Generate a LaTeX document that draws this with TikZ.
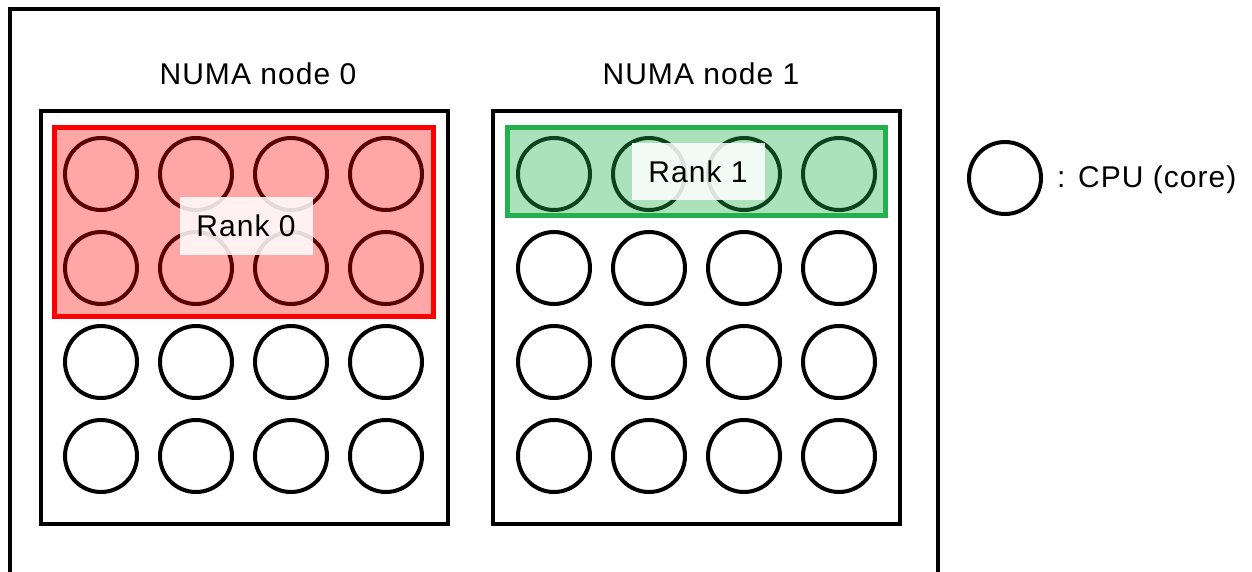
\documentclass[tikz,border=0pt]{standalone}
\usepackage{fontspec}
\setmainfont{Liberation Sans}[LetterSpace=3.5]
\begin{document}
\begin{tikzpicture}[x=1pt,y=-1pt,
  cpu/.style={circle,draw=black,line width=4pt,minimum size=72pt,inner sep=0pt},
  frame/.style={draw=black,line width=4pt},
  lbl/.style={font=\fontsize{30}{36}\selectfont,inner sep=0pt},
  tag/.style={fill=white,fill opacity=0.85,text opacity=1,minimum width=133pt,minimum height=57pt,font=\fontsize{30}{36}\selectfont,inner sep=0pt}
]
\useasboundingbox (0,0) rectangle (1252,572);
\clip (0,0) rectangle (1252,572);
\definecolor{rankred}{RGB}{255,0,0}
\definecolor{rankgreen}{RGB}{34,177,76}

% machine frame (bottom edge runs off the page)
\draw[frame] (10,9) rectangle (938,590);

% NUMA node frames
\draw[frame] (41,111) rectangle (448,524);
\draw[frame] (493,111) rectangle (900,524);
\node[lbl] (t0) at (258,74) {NUMA node 0};
\node[lbl] (t1) at (701,74) {NUMA node 1};

% CPU cores, 4x4 per NUMA node
\foreach \r/\y in {1/174,2/268,3/362,4/456}{
  \foreach \c/\x in {1/101,2/196,3/291,4/386}{
    \node[cpu] (a-\r-\c) at (\x,\y) {};
  }
  \foreach \c/\x in {1/554,2/649,3/744,4/839}{
    \node[cpu] (b-\r-\c) at (\x,\y) {};
  }
}

% rank 0: eight cores of node 0
\fill[rankred,opacity=0.35] (54,128) rectangle (433,316);
\draw[rankred,line width=5pt] (54,128) rectangle (433,316);
\node[tag] (r0) at (246,226) {Rank 0};

% rank 1: four cores of node 1
\fill[rankgreen,opacity=0.38] (507,128) rectangle (885,215);
\draw[rankgreen,line width=5pt] (507,128) rectangle (885,215);
\node[tag] (r1) at (698,172) {Rank 1};

% legend
\node[cpu] (key) at (1005,178) {};
\node[lbl,anchor=west] (keytext) at (1057,180) {: CPU (core)};
\end{tikzpicture}
\end{document}
